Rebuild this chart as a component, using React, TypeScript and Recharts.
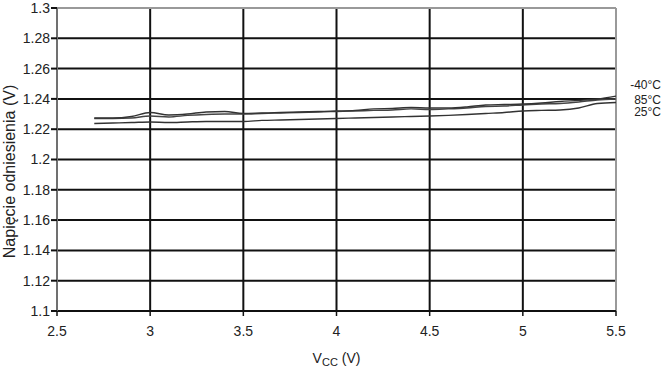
import React from 'react';
import { LineChart, Line, XAxis, YAxis, CartesianGrid, ReferenceLine } from 'recharts';

const vcc = [2.7, 2.8, 2.9, 3.0, 3.1, 3.2, 3.3, 3.4, 3.5, 3.6, 3.7, 3.8, 3.9, 4.0, 4.1, 4.2, 4.3, 4.4, 4.5, 4.6, 4.7, 4.8, 4.9, 5.0, 5.1, 5.2, 5.3, 5.4, 5.5];
const vrefM40 = [1.2274, 1.2274, 1.2284, 1.2310, 1.2294, 1.2300, 1.2314, 1.2317, 1.2304, 1.2307, 1.2310, 1.2314, 1.2317, 1.2320, 1.2324, 1.2334, 1.2337, 1.2343, 1.2340, 1.2340, 1.2347, 1.2360, 1.2363, 1.2366, 1.2373, 1.2383, 1.2390, 1.2399, 1.2418];
const vref85 = [1.2271, 1.2271, 1.2274, 1.2287, 1.2281, 1.2291, 1.2297, 1.2300, 1.2300, 1.2304, 1.2307, 1.2310, 1.2314, 1.2317, 1.2320, 1.2324, 1.2327, 1.2334, 1.2330, 1.2334, 1.2340, 1.2350, 1.2353, 1.2360, 1.2366, 1.2370, 1.2380, 1.2393, 1.2399];
const vref25 = [1.2238, 1.2241, 1.2244, 1.2248, 1.2244, 1.2248, 1.2251, 1.2251, 1.2251, 1.2258, 1.2261, 1.2264, 1.2267, 1.2271, 1.2274, 1.2277, 1.2281, 1.2284, 1.2287, 1.2291, 1.2297, 1.2304, 1.2310, 1.2320, 1.2324, 1.2327, 1.2340, 1.2370, 1.2376];

const xTicks = [2.5, 3, 3.5, 4, 4.5, 5, 5.5];
const yTicks = [1.1, 1.12, 1.14, 1.16, 1.18, 1.2, 1.22, 1.24, 1.26, 1.28, 1.3];
const seriesNames = ['-40°C', '85°C', '25°C'];

const data = vcc.map((v, i) => ({ vcc: v, m40: vrefM40[i], p85: vref85[i], p25: vref25[i] }));

const FONT = '"Liberation Sans", Arial, sans-serif';
const fmt = (v: number) => String(Number(v.toFixed(2)));

const endLabel = (text: string, dy: number) => (props: any) => {
  if (props.index !== vcc.length - 1) return null;
  return (
    <text x={props.x + 45} y={props.y + dy} textAnchor="end" dominantBaseline="middle"
      fontFamily={FONT} fontSize={12} fill="#222">{text}</text>
  );
};

const XLabel = (props: any) => {
  const vb = props.viewBox || {};
  const cx = vb.x + vb.width / 2;
  return (
    <text x={cx} y={363} textAnchor="middle" fontFamily={FONT} fontSize={14} fill="#222">
      <tspan>V</tspan>
      <tspan fontSize={11} dy={3}>CC</tspan>
      <tspan dy={-3}> (V)</tspan>
    </text>
  );
};

const YLabel = (props: any) => {
  const vb = props.viewBox || {};
  const cy = vb.y + vb.height / 2 + 12;
  return (
    <text x={0} y={0} transform={`translate(15, ${cy}) rotate(-90)`} textAnchor="middle"
      fontFamily={FONT} fontSize={16} fill="#222">Napięcie odniesienia (V)</text>
  );
};

export default function App() {
  return (
    <div style={{ position: 'absolute', left: 0, top: 0, width: 664, height: 368, background: '#fff' }}>
      <LineChart width={664} height={368} data={data} margin={{ top: 8, right: 48, bottom: 27, left: 0 }}>
        <CartesianGrid stroke="#111" strokeWidth={2} verticalFill={[]} />
        <XAxis dataKey="vcc" type="number" domain={[2.5, 5.5]} ticks={xTicks} tickFormatter={fmt}
          height={30} tickSize={5} tickMargin={10}
          axisLine={{ stroke: '#111', strokeWidth: 1.5 }} tickLine={{ stroke: '#111', strokeWidth: 1.5 }}
          tick={{ fontFamily: FONT, fontSize: 14, fill: '#222' }} label={<XLabel />} />
        <YAxis type="number" domain={[1.1, 1.3]} ticks={yTicks} tickFormatter={fmt} width={57}
          tickSize={6} tickMargin={1} interval={0}
          axisLine={{ stroke: '#777', strokeWidth: 1.5 }} tickLine={{ stroke: '#111', strokeWidth: 2 }}
          tick={{ fontFamily: FONT, fontSize: 14, fill: '#222' }} label={<YLabel />} />
        <ReferenceLine y={1.3} stroke="#999" strokeWidth={2} />
        <ReferenceLine x={5.5} stroke="#999" strokeWidth={2} />
        <ReferenceLine x={2.5} stroke="#777" strokeWidth={1.5} />
        <ReferenceLine y={1.1} stroke="#111" strokeWidth={1.5} />
        <Line dataKey="p25" type="monotone" stroke="#333" strokeWidth={1.4} dot={false}
          isAnimationActive={false} label={endLabel(seriesNames[2], 10.5)} />
        <Line dataKey="p85" type="monotone" stroke="#444" strokeWidth={1.4} dot={false}
          isAnimationActive={false} label={endLabel(seriesNames[1], 1.5)} />
        <Line dataKey="m40" type="monotone" stroke="#333" strokeWidth={1.4} dot={false}
          isAnimationActive={false} label={endLabel(seriesNames[0], -10)} />
      </LineChart>
    </div>
  );
}
